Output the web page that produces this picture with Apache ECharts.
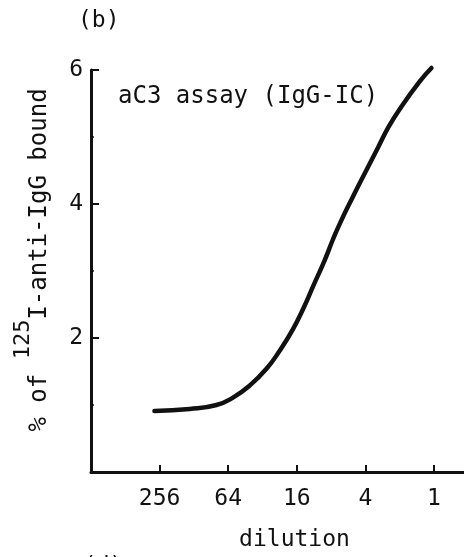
<!DOCTYPE html>
<html>
<head>
<meta charset="utf-8">
<script src="https://cdn.jsdelivr.net/npm/echarts@6/dist/echarts.min.js"></script>
<style>
html,body{margin:0;padding:0;background:#fff;}
#chart{width:464px;height:557px;}
</style>
</head>
<body>
<div id="chart"></div>
<script>
var dilutions = [284, 139, 81, 58, 41.4, 29.5, 22.6, 17.3, 14.1, 11.5, 9.1, 7.7, 6.6, 5.1, 4.04, 3.1, 2.5, 1.99, 1.33, 1.05];
var boundPct  = [0.91, 0.94, 1.00, 1.11, 1.29, 1.54, 1.81, 2.13, 2.43, 2.77, 3.16, 3.47, 3.73, 4.12, 4.46, 4.84, 5.15, 5.42, 5.83, 6.03];
var xTickDilutions = [256, 64, 16, 4, 1];
var yTicks = [2, 4, 6];

var FONT = '"DejaVu Sans Mono", monospace';
var INK = '#111';

// x axis is a log2 scale of dilution, reversed (high dilution on the left)
function toLog(d) { return -Math.log2(d); }
var seriesData = dilutions.map(function (d, i) { return [toLog(d), boundPct[i]]; });
var tickLogs = xTickDilutions.map(toLog);

var chart = echarts.init(document.getElementById('chart'), null, {renderer: 'canvas'});
chart.setOption({
  animation: false,
  backgroundColor: '#fff',
  grid: {left: 91, right: -10, top: 70, bottom: 85, containLabel: false, outerBoundsMode: 'none'},
  xAxis: {
    type: 'value',
    min: -10, max: 1.17, interval: 2,
    name: 'dilution',
    nameLocation: 'middle',
    nameGap: 57,
    nameTextStyle: {fontFamily: FONT, fontSize: 23, color: INK, padding: [0, 0, 0, 24]},
    axisLine: {show: true, onZero: false, lineStyle: {color: INK, width: 3}},
    axisTick: {show: true, inside: true, length: 7, lineStyle: {color: INK, width: 2}},
    splitLine: {show: false},
    axisLabel: {
      fontFamily: FONT, fontSize: 23, color: INK, margin: 16,
      showMaxLabel: false,
      formatter: function (v) {
        for (var i = 0; i < tickLogs.length; i++) {
          if (Math.abs(tickLogs[i] - v) < 1e-6) return String(xTickDilutions[i]);
        }
        return '';
      }
    }
  },
  yAxis: {
    type: 'value',
    min: 0, max: 6, interval: 2,
    name: '{pre|% of }{sup|125}{main|I-anti-IgG bound}',
    nameLocation: 'middle',
    nameRotate: 90,
    nameGap: 39,
    nameTextStyle: {
      padding: [0, 0, 0, 22],
      rich: {
        pre: {fontFamily: FONT, fontSize: 24, color: INK, lineHeight: 26, verticalAlign: 'bottom'},
        sup: {fontFamily: FONT, fontSize: 22, color: INK, lineHeight: 40, verticalAlign: 'top'},
        main: {fontFamily: FONT, fontSize: 24, color: INK, lineHeight: 26, verticalAlign: 'bottom'}
      }
    },
    axisLine: {show: true, onZero: false, lineStyle: {color: INK, width: 3}},
    axisTick: {show: true, inside: true, length: 8, lineStyle: {color: INK, width: 2}},
    minorTick: {show: true, splitNumber: 2, length: 3, lineStyle: {color: INK, width: 1.5}},
    splitLine: {show: false},
    minorSplitLine: {show: false},
    axisLabel: {
      fontFamily: FONT, fontSize: 23, color: INK, margin: 8,
      formatter: function (v) { return yTicks.indexOf(v) >= 0 ? String(v) : ''; }
    }
  },
  graphic: [
    {type: 'text', left: 78, top: 10, style: {text: '(b)', font: '23px ' + FONT, fill: INK}},
    {type: 'text', left: 118, top: 85, style: {text: 'aC3 assay (IgG-IC)', font: '24px ' + FONT, fill: INK}},
    {type: 'text', left: 83, top: 554, style: {text: '(d)', font: '22px ' + FONT, fill: INK}}
  ],
  series: [{
    type: 'line',
    data: seriesData,
    smooth: 0.5,
    clip: false,
    showSymbol: false,
    lineStyle: {color: INK, width: 4.5, cap: 'round'},
    silent: true
  }]
});
</script>
</body>
</html>
